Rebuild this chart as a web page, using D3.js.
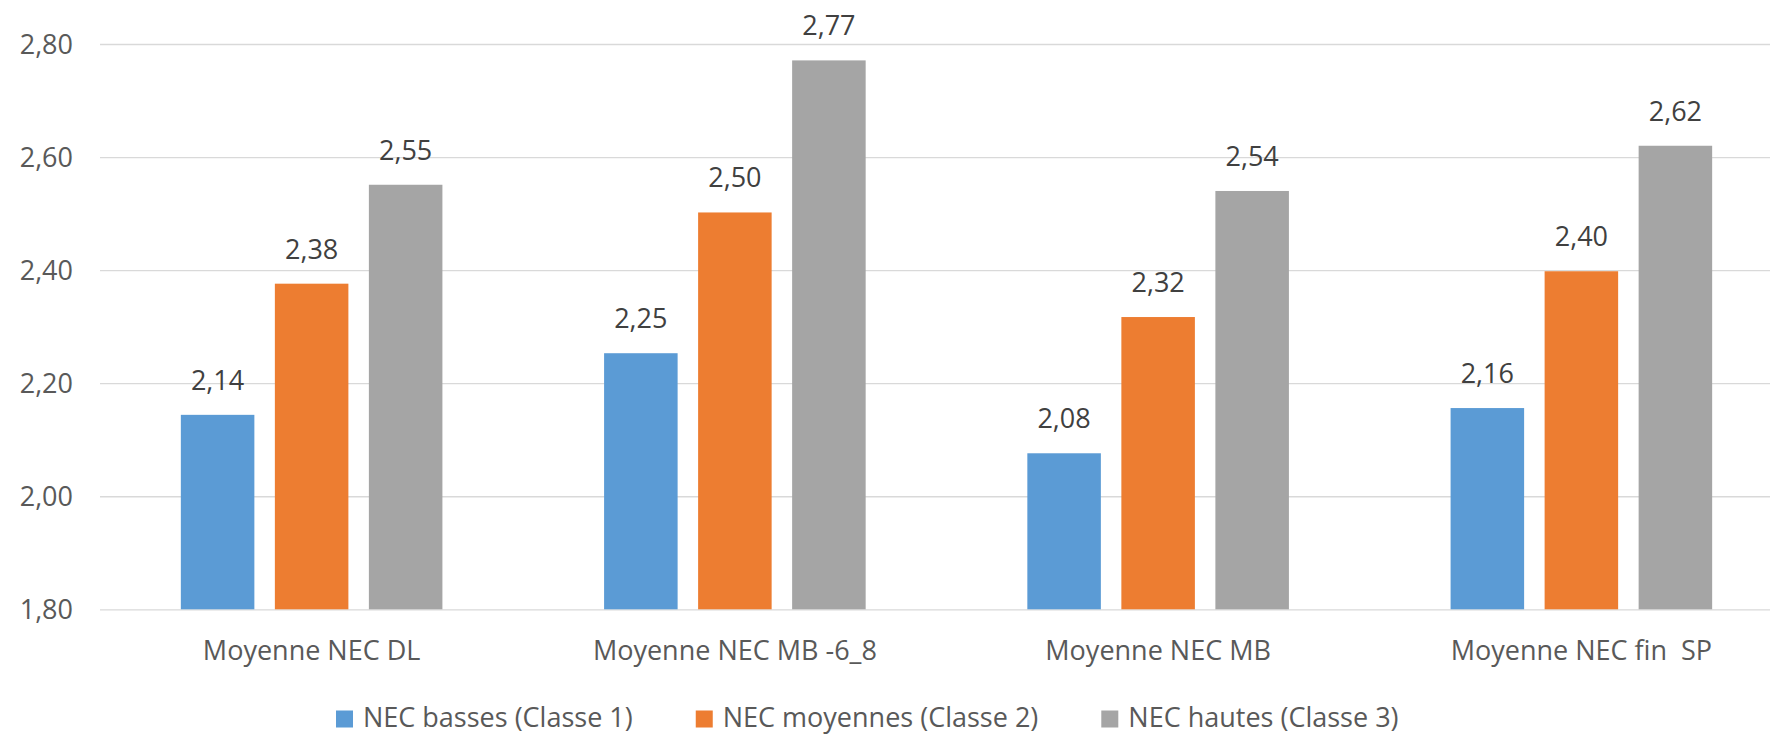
<!DOCTYPE html>
<html>
<head>
<meta charset="utf-8">
<script src="https://cdn.jsdelivr.net/npm/d3@7"></script>
<style>
  html, body { margin: 0; padding: 0; background: #fff; }
  svg { display: block; font-family: "Open Sans", sans-serif; }
</style>
</head>
<body>
<svg id="chart" width="1770" height="734"></svg>
<script>
const categories = ["Moyenne NEC DL", "Moyenne NEC MB -6_8", "Moyenne NEC MB", "Moyenne NEC fin  SP"];
const seriesNames = ["NEC basses (Classe 1)", "NEC moyennes (Classe 2)", "NEC hautes (Classe 3)"];
const basses   = [2.144, 2.253, 2.076, 2.156];
const moyennes = [2.376, 2.502, 2.317, 2.398];
const hautes   = [2.551, 2.771, 2.540, 2.620];
const labelsBasses   = ["2,14", "2,25", "2,08", "2,16"];
const labelsMoyennes = ["2,38", "2,50", "2,32", "2,40"];
const labelsHautes   = ["2,55", "2,77", "2,54", "2,62"];
const yTicks = [1.8, 2.0, 2.2, 2.4, 2.6, 2.8];
const yTickLabels = ["1,80", "2,00", "2,20", "2,40", "2,60", "2,80"];
const colors = ["#5B9BD5", "#ED7D31", "#A5A5A5"];

(function () {
const values = [basses, moyennes, hautes];
const labels = [labelsBasses, labelsMoyennes, labelsHautes];

const svg = d3.select("#chart");
const pLeft = 100, pRight = 1793, pTop = 44, pBottom = 609.3;

const x0 = d3.scaleBand().domain(categories).range([pLeft, pRight])
  .paddingInner(0.382).paddingOuter(0.191);
const x1 = d3.scaleBand().domain(seriesNames).range([0, x0.bandwidth()])
  .paddingInner(0.218).paddingOuter(0);
const y = d3.scaleLinear().domain([1.8, 2.8]).range([pBottom, pTop]);

// gridlines + y labels
const yAxis = d3.axisLeft(y).tickValues(yTicks)
  .tickSize(-(pRight - pLeft))
  .tickFormat((d, i) => yTickLabels[i]);
const gy = svg.append("g").attr("transform", `translate(${pLeft},0)`).call(yAxis);
gy.select(".domain").remove();
gy.selectAll(".tick line").attr("stroke", "#D9D9D9").attr("stroke-width", 1.3);
gy.selectAll(".tick text")
  .attr("x", -27).attr("dy", "0.35em")
  .attr("fill", "#595959")
  .style("font-size", "27px")
  .style("font-family", "'Open Sans', sans-serif");

// bars
const groups = svg.append("g").selectAll("g")
  .data(categories).join("g")
  .attr("transform", d => `translate(${x0(d)},0)`);

groups.each(function (cat, ci) {
  const g = d3.select(this);
  seriesNames.forEach((s, si) => {
    const v = values[si][ci];
    g.append("rect")
      .attr("x", x1(s))
      .attr("y", y(v))
      .attr("width", x1.bandwidth())
      .attr("height", y(1.8) - y(v))
      .attr("fill", colors[si]);
    g.append("text")
      .attr("x", x1(s) + x1.bandwidth() / 2)
      .attr("y", y(v) - 25)
      .attr("text-anchor", "middle")
      .attr("fill", "#404040")
      .style("font-size", "27px")
      .text(labels[si][ci]);
  });
});

// category axis labels
const xAxis = d3.axisBottom(x0).tickSize(0).tickPadding(0);
const gx = svg.append("g").attr("transform", `translate(0,${pBottom})`).call(xAxis);
gx.select(".domain").remove();
gx.selectAll(".tick text")
  .attr("y", 51).attr("dy", 0)
  .attr("fill", "#595959")
  .style("font-size", "27px")
  .style("font-family", "'Open Sans', sans-serif")
  .style("white-space", "pre");

// legend
const legend = svg.append("g");
let lx = 336;
const ly = 727;
seriesNames.forEach((s, i) => {
  legend.append("rect")
    .attr("x", lx).attr("y", ly - 16.5)
    .attr("width", 17).attr("height", 17)
    .attr("fill", colors[i]);
  const t = legend.append("text")
    .attr("x", lx + 27).attr("y", ly)
    .attr("fill", "#595959")
    .style("font-size", "27px")
    .text(s);
  const w = t.node().getComputedTextLength();
  lx = lx + 27 + w + 63;
});
})();
</script>
</body>
</html>
